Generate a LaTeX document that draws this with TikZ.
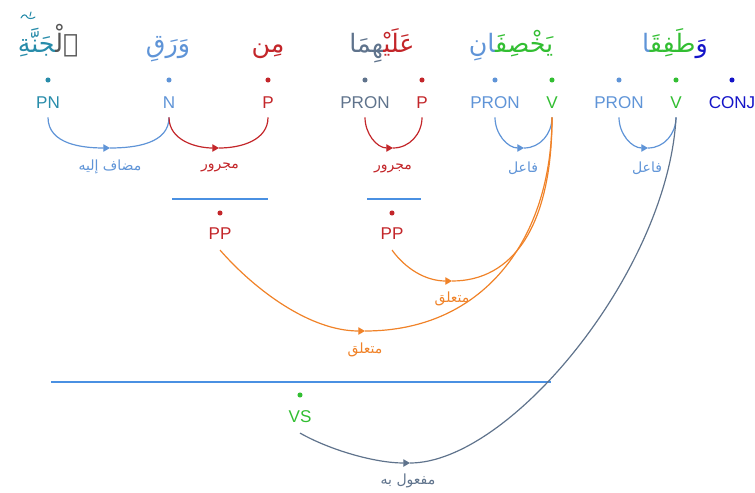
\documentclass[tikz,border=0pt]{standalone}
\usepackage{fontspec}
\setmainfont{Liberation Sans}
\newfontfamily\arabicfont[Script=Arabic]{DejaVu Sans}
\TeXXeTstate=1
\usetikzlibrary{arrows.meta}

\definecolor{detgray}{RGB}{85,85,85}
\definecolor{pncol}{RGB}{40,140,170}
\definecolor{nblue}{RGB}{95,148,215}
\definecolor{pred}{RGB}{195,38,42}
\definecolor{prongray}{RGB}{95,115,140}
\definecolor{vgreen}{RGB}{50,190,50}
\definecolor{conjblue}{RGB}{20,20,200}
\definecolor{relorange}{RGB}{240,130,40}
\definecolor{lineblue}{RGB}{74,144,226}

\tikzset{
  word/.style={anchor=base,font=\arabicfont\fontsize{19}{23}\selectfont},
  postag/.style={font=\fontsize{12.8}{14}\selectfont,text height=9.2pt,text depth=0pt,inner xsep=0pt,inner ysep=6.75pt},
  phrasetag/.style={postag,inner ysep=8pt},
  tokdot/.style={shape=circle,minimum size=3.8pt,inner sep=0pt},
  dep/.style={line width=0.9pt},
  arrowmid/.style={-{Triangle[length=5pt,width=5.5pt]}},
  lbl/.style={font=\arabicfont\fontsize{10.5}{12}\selectfont},
  phrase/.style={line width=1.2pt,draw=lineblue},
}

\begin{document}
\begin{tikzpicture}[x=0.75pt,y=0.75pt]
\useasboundingbox (0,0) rectangle (755,-492);

\node[word] (w1) at (48,-52) {{\color{pncol}^^^^200dجَنَّةِ}{\color{detgray}ٱلْ^^^^200d}};
\node[word,text=nblue] (w2) at (168,-52) {وَرَقِ};
\node[word,text=pred] (w3) at (268,-52) {مِن};
\node[word] (w4) at (382,-52) {{\color{prongray}^^^^200dهِمَا}{\color{pred}عَلَيْ^^^^200d}};
\node[word] (w5) at (511,-52) {{\color{nblue}^^^^200dانِ}{\color{vgreen}يَخْصِفَ^^^^200d}};
\node[word] (w6) at (675,-52) {{\color{nblue}^^^^200dا}{\color{vgreen}طَفِقَ^^^^200d}{\color{conjblue}وَ}};
\draw[pncol,line width=0.8pt,line cap=round] (21,-18) .. controls (23,-14) and (26,-14) .. (27,-17)
  .. controls (28,-19) and (33,-19) .. (35,-17) (30,-16) -- (31,-12);

\node[tokdot,fill=pncol] (d1) at (48,-80) {};
\node[tokdot,fill=nblue] (d2) at (169,-80) {};
\node[tokdot,fill=pred] (d3) at (268,-80) {};
\node[tokdot,fill=prongray] (d4) at (365,-80) {};
\node[tokdot,fill=pred] (d5) at (422,-80) {};
\node[tokdot,fill=nblue] (d6) at (495,-80) {};
\node[tokdot,fill=vgreen] (d7) at (552,-80) {};
\node[tokdot,fill=nblue] (d8) at (619,-80) {};
\node[tokdot,fill=vgreen] (d9) at (676,-80) {};
\node[tokdot,fill=conjblue] (d10) at (732,-80) {};

\node[postag,text=pncol] (pn) at (48,-102) {PN};
\node[postag,text=nblue] (n) at (169,-102) {N};
\node[postag,text=pred] (p1) at (268,-102) {P};
\node[postag,text=prongray] (pron1) at (365,-102) {PRON};
\node[postag,text=pred] (p2) at (422,-102) {P};
\node[postag,text=nblue] (pron2) at (495,-102) {PRON};
\node[postag,text=vgreen] (v1) at (552,-102) {V};
\node[postag,text=nblue] (pron3) at (619,-102) {PRON};
\node[postag,text=vgreen] (v2) at (676,-102) {V};
\node[postag,text=conjblue] (conj) at (732,-102) {CONJ};

\draw[phrase] (172,-199) -- (268,-199);
\draw[phrase] (367,-199) -- (421,-199);
\node[tokdot,fill=pred] (d11) at (220,-213) {};
\node[phrasetag,text=pred] (pp1) at (220,-233) {PP};
\node[tokdot,fill=pred] (d12) at (392,-213) {};
\node[phrasetag,text=pred] (pp2) at (392,-233) {PP};

\draw[phrase] (51,-382) -- (551,-382);
\node[tokdot,fill=vgreen] (d13) at (300,-395) {};
\node[phrasetag,text=vgreen] (vs) at (300,-416) {VS};

\coordinate (m1) at (110,-148);
\coordinate (m2) at (219,-148);
\coordinate (m3) at (393,-148);
\coordinate (m4) at (524,-148);
\coordinate (m5) at (648,-148);
\coordinate (m6) at (452,-281);
\coordinate (m7) at (365,-331);
\coordinate (m8) at (410,-463);

\draw[dep,nblue,arrowmid] (pn) to[out=-90,in=180] (m1);
\draw[dep,nblue] (m1) to[out=0,in=-90] (n);
\draw[dep,pred,arrowmid] (n) to[out=-90,in=180] (m2);
\draw[dep,pred] (m2) to[out=0,in=-90] (p1);
\draw[dep,pred,arrowmid] (pron1) to[out=-90,in=180] (m3);
\draw[dep,pred] (m3) to[out=0,in=-90] (p2);
\draw[dep,nblue,arrowmid] (pron2) to[out=-90,in=180] (m4);
\draw[dep,nblue] (m4) to[out=0,in=-90] (v1);
\draw[dep,nblue,arrowmid] (pron3) to[out=-90,in=180] (m5);
\draw[dep,nblue] (m5) to[out=0,in=-90] (v2);

\draw[dep,relorange,arrowmid] (pp2.south) .. controls +(13,-18) and +(-27,0) .. (m6);
\draw[dep,relorange] (m6) .. controls +(60,0) and +(0,-110) .. (v1.south);
\draw[dep,relorange,arrowmid] (pp1.south) .. controls +(35,-40) and +(-55,0) .. (m7);
\draw[dep,relorange] (m7) .. controls +(120,0) and +(0,-120) .. (v1.south);
\draw[dep,prongray,arrowmid] (vs.south) .. controls +(30,-17) and +(-35,0) .. (m8);
\draw[dep,prongray] (m8) .. controls +(100,0) and +(-8,-153) .. (v2.south);

\node[lbl,text=nblue] (l1) at (110,-167) {\beginR مضاف إليه\endR};
\node[lbl,text=pred] (l2) at (220,-167) {مجرور};
\node[lbl,text=pred] (l3) at (393,-168) {مجرور};
\node[lbl,text=nblue] (l4) at (523,-168) {فاعل};
\node[lbl,text=nblue] (l5) at (647,-168) {فاعل};
\node[lbl,text=relorange] (l6) at (452,-299) {متعلق};
\node[lbl,text=relorange] (l7) at (365,-350) {متعلق};
\node[lbl,text=prongray] (l8) at (408,-481) {\beginR مفعول به\endR};
\end{tikzpicture}
\end{document}
